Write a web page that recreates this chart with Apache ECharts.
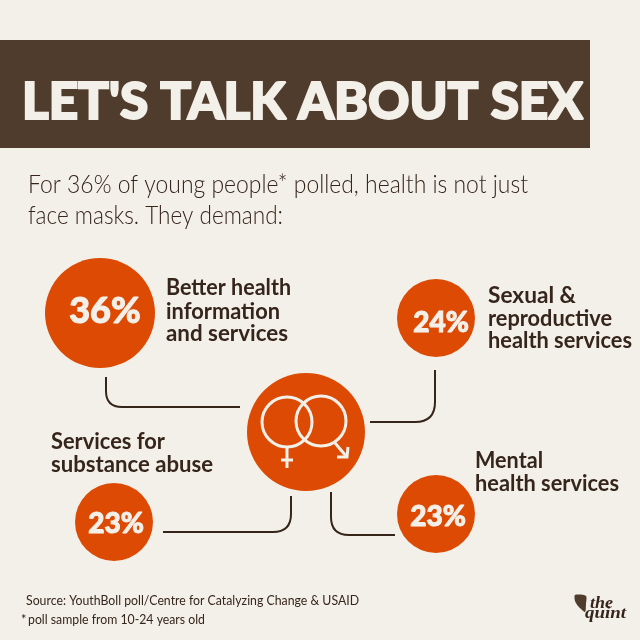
<!DOCTYPE html>
<html>
<head>
    <meta charset="UTF-8">
    <title>Let's talk about sex</title>
    <script src="https://cdn.jsdelivr.net/npm/echarts@6.0.0/dist/echarts.min.js"></script>
    <style>
        html, body { margin: 0; padding: 0; background: #f3f0e9; }
        #chart { width: 640px; height: 640px; }
    </style>
</head>
<body>
    <div id="chart"></div>
    <script>
        // data
        const titleText = "LET'S TALK ABOUT SEX";
        const introLines = ['For 36% of young people* polled, health is not just', 'face masks. They demand:'];
        const demands = ['Better health|information|and services', 'Sexual &|reproductive|health services', 'Services for|substance abuse', 'Mental|health services'];
        const shares = [36, 24, 23, 23];
        const sourceLine = 'Source: YouthBoll poll/Centre for Catalyzing Change & USAID';
        const noteLine = 'poll sample from 10-24 years old';

        // layout, in pixels of the 640 canvas
        const bubbleAt = [[100, 313], [436, 318], [114, 522], [436, 514]];
        const bubbleSize = [110, 78, 78, 78];
        const labelOffset = [[5, -2], [5, 5], [2, 2], [2, 3]];
        const labelSize = [36, 28, 28, 28];
        const hub = [306, 432];
        const elbows = [
            [[106, 377], [106, 407], [240, 407], 16],
            [[435, 370], [435, 422], [370, 422], 20],
            [[291, 496], [291, 532], [163, 532], 18],
            [[331, 492], [331, 535], [395, 535], 18]
        ];
        const captions = [
            { x: 166, ys: [294, 318, 340], w: [125, 114, 122] },
            { x: 488, ys: [302, 325, 347], w: [88, 124, 144] },
            { x: 51, ys: [448, 471], w: [114, 162] },
            { x: 475, ys: [467, 490], w: [68, 144] }
        ];

        const cream = '#f3f0e9';
        const dark = '#35251b';
        const orange = '#dc4a04';

        const measure = document.createElement('canvas').getContext('2d');

        // text placed by its baseline, squeezed to the width
        function text(str, x, base, size, weight, family, width, color, style, bold) {
            const font = (style || 'normal') + ' ' + weight + ' ' + size + 'px ' + family;
            measure.font = font;
            const sx = width ? width / measure.measureText(str).width : 1;
            const fill = color || dark;
            return {
                type: 'text', x: x, y: base - size * 0.27, scaleX: sx, z: 20, silent: true,
                style: { text: str, font: font, fill: fill, stroke: bold ? fill : null, lineWidth: bold || 0, textAlign: 'left', textVerticalAlign: 'middle' }
            };
        }

        function stroke(color, w) {
            return { stroke: color, lineWidth: w, fill: 'none', lineCap: 'butt' };
        }

        // straight, rounded corner, straight
        function renderElbow(params, api) {
            const e = elbows[params.dataIndex];
            const a = api.coord(e[0]), c = api.coord(e[1]), b = api.coord(e[2]), r = e[3];
            const toward = (p, q) => {
                const d = Math.hypot(q[0] - p[0], q[1] - p[1]);
                return [p[0] + (q[0] - p[0]) * r / d, p[1] + (q[1] - p[1]) * r / d];
            };
            const p1 = toward(c, a), p2 = toward(c, b);
            const s = stroke(dark, 2);
            return {
                type: 'group',
                children: [
                    { type: 'line', shape: { x1: a[0], y1: a[1], x2: p1[0], y2: p1[1] }, style: s },
                    { type: 'bezierCurve', shape: { x1: p1[0], y1: p1[1], cpx1: c[0], cpy1: c[1], x2: p2[0], y2: p2[1] }, style: s },
                    { type: 'line', shape: { x1: p2[0], y1: p2[1], x2: b[0], y2: b[1] }, style: s }
                ]
            };
        }

        const graphics = [
            { type: 'rect', shape: { x: 0, y: 40, width: 590, height: 108 }, style: { fill: '#503c2d' }, z: 1, silent: true },
            text(titleText, 22, 116, 51, 900, 'Lato', 561, cream, null, 2),
            text(introLines[0], 28, 192, 25, 300, 'Lato', 500),
            text(introLines[1], 28, 223, 25, 300, 'Lato', 255),
            text(sourceLine, 26, 604, 13, 400, 'Lato', 333),
            text('*', 21, 623, 13, 400, 'Lato'),
            text(noteLine, 28, 623, 13, 400, 'Lato', 177),
            { type: 'polygon', shape: { points: [[575, 595], [586, 596], [586, 604], [585, 612], [578, 606], [575, 601]], smooth: 0.25 }, style: { fill: '#503c2d' }, z: 20, silent: true },
            text('the', 590, 608, 16, 700, '"Liberation Serif"', 23, dark, 'italic'),
            text('quint', 585, 618, 16, 700, '"Liberation Serif"', 41, dark, 'italic'),
            // female and male signs on the hub
            { type: 'circle', shape: { cx: 287, cy: 422, r: 25 }, style: stroke(cream, 3), z: 20, silent: true },
            { type: 'circle', shape: { cx: 321, cy: 421, r: 25 }, style: stroke(cream, 3), z: 20, silent: true },
            { type: 'line', shape: { x1: 287, y1: 447, x2: 287, y2: 468 }, style: stroke(cream, 3), z: 20, silent: true },
            { type: 'line', shape: { x1: 281, y1: 460, x2: 293, y2: 460 }, style: stroke(cream, 3), z: 20, silent: true },
            { type: 'line', shape: { x1: 335, y1: 443, x2: 346, y2: 456 }, style: stroke(cream, 3), z: 20, silent: true },
            { type: 'polyline', shape: { points: [[337, 457], [347, 457], [348, 447]] }, style: stroke(cream, 3), z: 20, silent: true }
        ];
        demands.forEach((d, i) => {
            d.split('|').forEach((line, j) => {
                graphics.push(text(line, captions[i].x, captions[i].ys[j], 22, 700, 'Lato', captions[i].w[j]));
            });
        });

        const chart = echarts.init(document.getElementById('chart'));
        chart.setOption({
            animation: false,
            backgroundColor: cream,
            grid: { left: 0, right: 0, top: 0, bottom: 0 },
            xAxis: { type: 'value', min: 0, max: 640, show: false },
            yAxis: { type: 'value', min: 0, max: 640, inverse: true, show: false },
            tooltip: { show: false },
            graphic: graphics,
            series: [
                {
                    type: 'custom',
                    silent: true,
                    renderItem: renderElbow,
                    data: elbows.map((e, i) => i),
                    encode: { x: [], y: [] },
                    clip: false
                },
                {
                    type: 'scatter',
                    silent: true,
                    data: [{ value: hub, symbolSize: 118, label: { show: false } }].concat(shares.map((v, i) => ({
                        value: bubbleAt[i],
                        symbolSize: bubbleSize[i],
                        label: {
                            show: true,
                            position: 'inside',
                            offset: labelOffset[i],
                            formatter: v + '%',
                            color: cream,
                            fontFamily: 'Lato',
                            fontWeight: 900,
                            fontSize: labelSize[i],
                            textBorderColor: cream,
                            textBorderWidth: 1
                        }
                    }))),
                    itemStyle: { color: orange, opacity: 1 }
                }
            ]
        });
    </script>
</body>
</html>
